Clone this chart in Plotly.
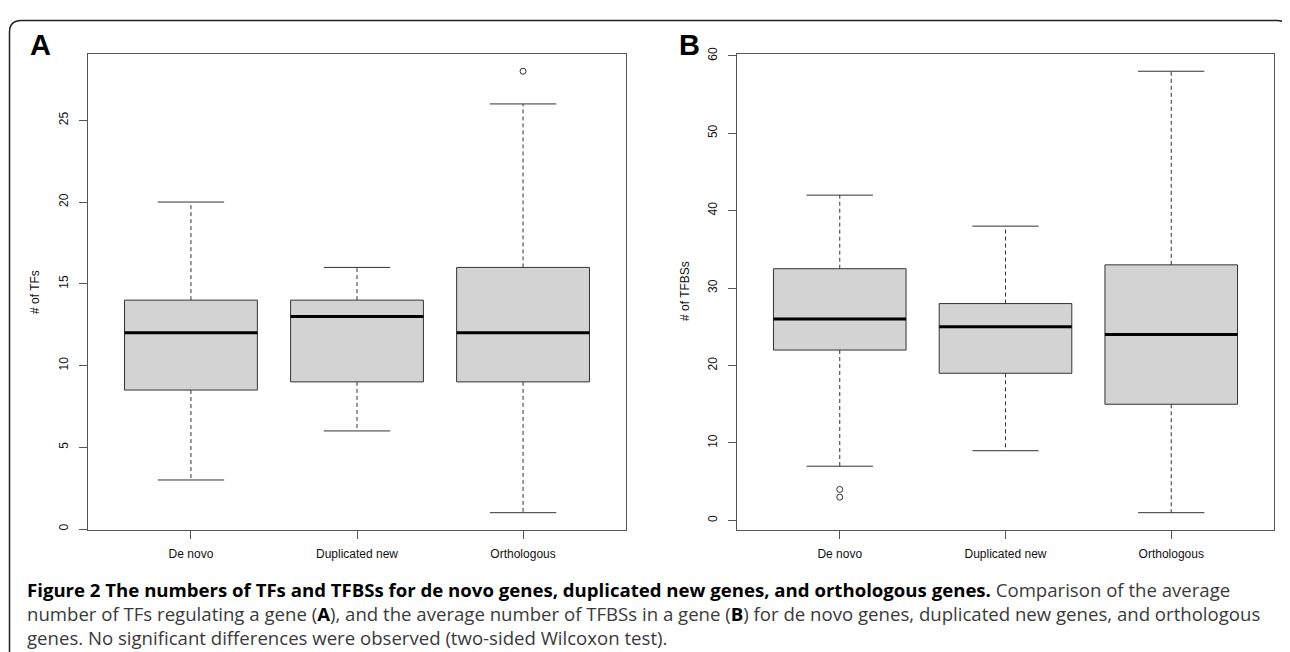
import plotly.graph_objects as go

# ---------------- data ----------------
categories = ["De novo", "Duplicated new", "Orthologous"]
positions = [1, 2, 3]

# Panel A: number of TFs
tf_lower = [3, 6, 1]
tf_q1 = [8.5, 9, 9]
tf_median = [12, 13, 12]
tf_q3 = [14, 14, 16]
tf_upper = [20, 16, 26]
tf_outliers = [[], [], [28]]
tf_ticks = [0, 5, 10, 15, 20, 25]

# Panel B: number of TFBSs
tfbs_lower = [7, 9, 1]
tfbs_q1 = [22, 19, 15]
tfbs_median = [26, 25, 24]
tfbs_q3 = [32.5, 28, 33]
tfbs_upper = [42, 38, 58]
tfbs_outliers = [[3, 4], [], []]
tfbs_ticks = [0, 10, 20, 30, 40, 50, 60]

B0 = "<b><span style='color:#000'>"
B1 = "</span></b>"
caption_lines = [
    B0 + "Figure 2 The numbers of TFs and TFBSs for de novo genes, duplicated new genes, and orthologous genes." + B1 + " Comparison of the average",
    "number of TFs regulating a gene (" + B0 + "A" + B1 + "), and the average number of TFBSs in a gene (" + B0 + "B" + B1 + ") for de novo genes, duplicated new genes, and orthologous",
    "genes. No significant differences were observed (two-sided Wilcoxon test).",
]

# ---------------- layout helpers ----------------
# page body has an 8px margin; figure is sized to fill the remaining window
OFF = 8
W, H = 1290 - OFF, 652 - OFF
def px(x):
    return (x - OFF) / W
def py(y):
    return 1 - (y - OFF) / H

RFONT = "Liberation Sans, Arial, sans-serif"
LINE = "#333333"
AX = "#555555"

fig = go.Figure()

def add_boxes(xa, ya, lower, q1, med, q3, upper, outliers):
    half, cap = 0.4, 0.2
    common = dict(xaxis=xa, yaxis=ya, hoverinfo="skip", showlegend=False)
    for i, p in enumerate(positions):
        fig.add_trace(go.Scatter(
            x=[p, p, None, p, p], y=[q3[i], upper[i], None, q1[i], lower[i]],
            mode="lines", line=dict(color=LINE, width=1, dash="4px,3px"), **common))
        fig.add_trace(go.Scatter(
            x=[p - cap, p + cap, None, p - cap, p + cap],
            y=[upper[i], upper[i], None, lower[i], lower[i]],
            mode="lines", line=dict(color=LINE, width=1), **common))
        fig.add_trace(go.Scatter(
            x=[p - half, p + half, p + half, p - half, p - half],
            y=[q1[i], q1[i], q3[i], q3[i], q1[i]],
            mode="lines", fill="toself", fillcolor="#d3d3d3",
            line=dict(color=LINE, width=1), **common))
        fig.add_trace(go.Scatter(
            x=[p - half, p + half], y=[med[i], med[i]],
            mode="lines", line=dict(color="black", width=3), **common))
        if outliers[i]:
            fig.add_trace(go.Scatter(
                x=[p] * len(outliers[i]), y=outliers[i], mode="markers",
                marker=dict(symbol="circle-open", size=6, color=LINE,
                            line=dict(width=1, color=LINE)), **common))

add_boxes("x", "y", tf_lower, tf_q1, tf_median, tf_q3, tf_upper, tf_outliers)
add_boxes("x2", "y2", tfbs_lower, tfbs_q1, tfbs_median, tfbs_q3, tfbs_upper, tfbs_outliers)

ydom = [py(529), py(47)]

def xaxis_cfg(x0, x1, anchor):
    return dict(domain=[px(x0), px(x1)], range=[0.38, 3.62], anchor=anchor,
                tickmode="array", tickvals=positions, ticktext=categories,
                ticks="outside", ticklen=8, tickcolor=AX, tickwidth=1,
                showline=True, linecolor=AX, linewidth=1, mirror=True,
                showgrid=False, zeroline=False, ticklabelstandoff=4,
                tickfont=dict(family=RFONT, size=12, color="#111"))

def yaxis_cfg(rng, ticks, anchor):
    return dict(domain=ydom, range=rng, anchor=anchor,
                tickmode="array", tickvals=ticks, ticktext=[str(t) for t in ticks],
                tickangle=-90, ticks="outside", ticklen=8, tickcolor=AX, tickwidth=1,
                showline=True, linecolor=AX, linewidth=1, mirror=True,
                showgrid=False, zeroline=False, ticklabelstandoff=6,
                tickfont=dict(family=RFONT, size=12, color="#111"))

# outer rounded frame (open at the bottom, runs off the page)
x0, y0, x1, y1, r = 9.5, 13.5, 1289, 680, 12
rx, ry = r / W, r / H
path = (f"M {px(x0)},{py(y1)} L {px(x0)},{py(y0) - ry} "
        f"Q {px(x0)},{py(y0)} {px(x0) + rx},{py(y0)} "
        f"L {px(x1) - rx},{py(y0)} Q {px(x1)},{py(y0)} {px(x1)},{py(y0) - ry} "
        f"L {px(x1)},{py(y1)}")

def ann(text, x, y, size, angle=0, family=RFONT, **kw):
    d = dict(text=text, x=px(x), y=py(y), xref="paper", yref="paper",
             xanchor="center", yanchor="middle", showarrow=False, textangle=angle,
             font=dict(family=family, size=size, color=kw.pop("color", "#111")))
    d.update(kw)
    return d

annotations = [
    ann("<b>A</b>", 40, 38, 29, color="black"),
    ann("<b>B</b>", 689, 38, 29, color="black"),
    ann("# of TFs", 35, 288, 12, angle=-90),
    ann("# of TFBSs", 685, 287, 12, angle=-90),
    ann("<br>".join(caption_lines), 25, 613, 18.6, family="Open Sans, sans-serif",
        color="#3a3a3a", xanchor="left", align="left"),
]

fig.update_layout(
    width=W, height=H, margin=dict(l=0, r=0, t=0, b=0),
    paper_bgcolor="white", plot_bgcolor="white", showlegend=False,
    xaxis=xaxis_cfg(88, 626, "y"), yaxis=yaxis_cfg([-0.08, 29.08], tf_ticks, "x"),
    xaxis2=xaxis_cfg(737, 1274, "y2"), yaxis2=yaxis_cfg([-1.28, 60.28], tfbs_ticks, "x2"),
    shapes=[dict(type="path", path=path, xref="paper", yref="paper",
                 line=dict(color="#222", width=1.5), layer="above")],
    annotations=annotations,
)

fig.write_html("out.html")
